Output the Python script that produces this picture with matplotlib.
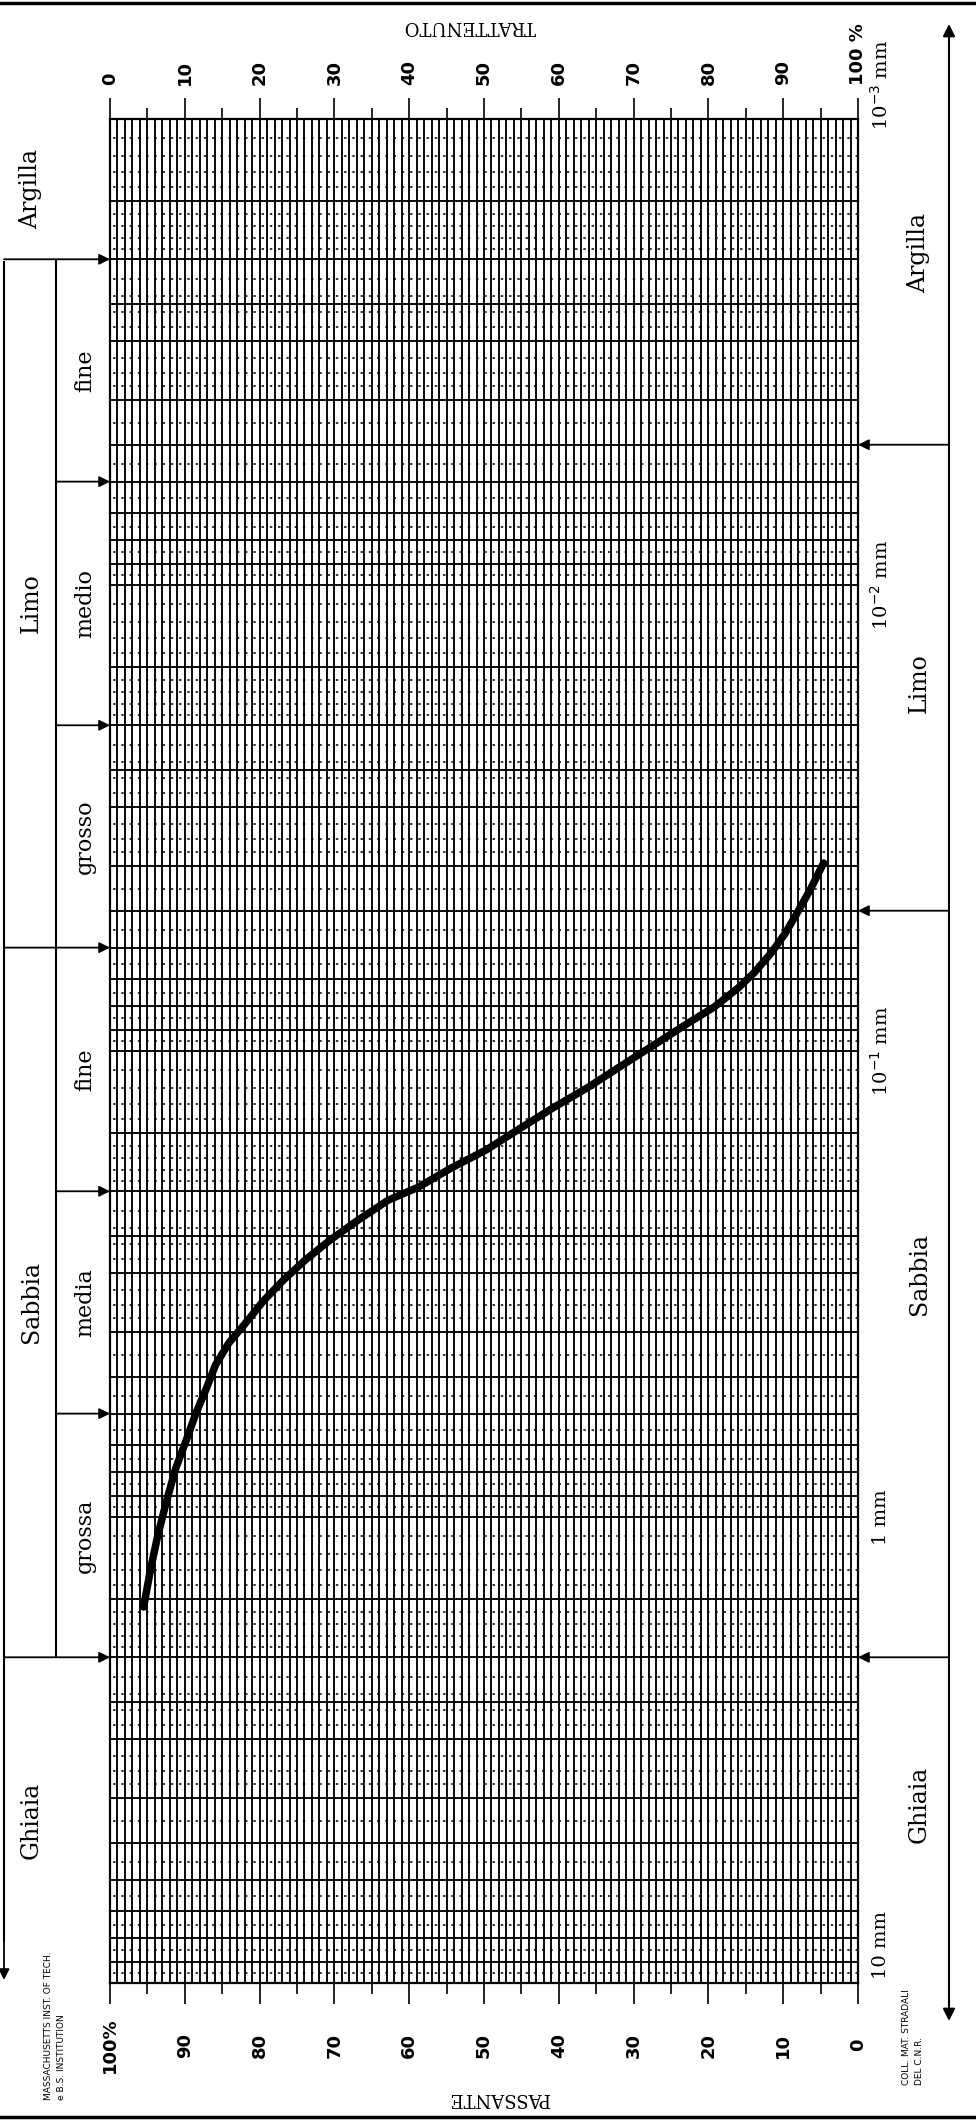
import numpy as np
import matplotlib

matplotlib.use("Agg")
import matplotlib.pyplot as plt
from matplotlib.lines import Line2D
from matplotlib.transforms import Affine2D, blended_transform_factory

# grain size curve: % passing against diameter (mm)
passing = [95.5, 94.6, 93.6, 92.4, 91.2, 89.8, 88.5, 87.1, 85.9, 84.1, 81.9, 79.5,
           76.8, 73.8, 70.5, 66.9, 62.8, 58.8, 54.3, 49.7, 45.3, 40.8, 36.2, 31.8,
           27.3, 22.7, 19.2, 16.0, 13.8, 11.5, 9.7, 8.3, 6.4, 4.6]
diameter_mm = [1.56, 1.30, 1.093, 0.919, 0.785, 0.684, 0.598, 0.529, 0.472, 0.423,
               0.384, 0.344, 0.310, 0.280, 0.254, 0.231, 0.209, 0.196, 0.178, 0.163,
               0.147, 0.1325, 0.120, 0.108, 0.0971, 0.0871, 0.0804, 0.0732, 0.0677,
               0.0613, 0.0558, 0.0511, 0.0451, 0.0395]

# percent axis
pct_major = [100, 90, 80, 70, 60, 50, 40, 30, 20, 10, 0]
passante_labels = ["100%", "90", "80", "70", "60", "50", "40", "30", "20", "10", "0"]
trattenuto_labels = ["0", "10", "20", "30", "40", "50", "60", "70", "80", "90", "100 %"]

# size axis
size_ticks = [10, 1, 0.1, 0.01, 0.001]
size_labels = ["10 mm", "1 mm", "10$^{-1}$ mm", "10$^{-2}$ mm", "10$^{-3}$ mm"]

# M.I.T. / B.S. classification (left column)
mit_main_bounds = [0.002, 0.06, 2.0]
mit_main_names = ["Argilla", "Limo", "Sabbia", "Ghiaia"]
mit_sub_bounds = [0.006, 0.02, 0.2, 0.6]
mit_sub_edges = [0.002, 0.006, 0.02, 0.06, 0.2, 0.6, 2.0]
mit_sub_names = ["fine", "medio", "grosso", "fine", "media", "grossa"]

# C.N.R. classification (right column)
cnr_bounds = [0.005, 0.05, 2.0]
cnr_names = ["Argilla", "Limo", "Sabbia", "Ghiaia"]

# log paper rulings
solid_mult = [1, 1.5, 2, 2.5, 3, 4, 5, 6, 7, 8, 9]
dash_mult = [1.1, 1.2, 1.3, 1.4, 1.6, 1.7, 1.8, 1.9, 2.2, 2.4, 2.6, 2.8,
             3.25, 3.5, 3.75, 4.5, 5.5, 6.5, 7.5, 8.5, 9.5]

# ---- layout (pixels of the 976 x 2121 sheet) ----
W, H = 976, 2121
GL, GR, GT, GB = 110, 858, 119, 1983

fig = plt.figure(figsize=(W / 100, H / 100), dpi=100)
ax = fig.add_axes([GL / W, 1 - GB / H, (GR - GL) / W, (GB - GT) / H])

px = Affine2D().scale(1 / W, -1 / H).translate(0, 1) + fig.transFigure
px_y_data = blended_transform_factory(px, ax.transData)
data_x_px = blended_transform_factory(ax.transData, px)

ax.set_yscale("log")
ax.set_xlim(100, 0)
ax.set_ylim(10, 0.001)

# paper grid
ax.vlines(np.arange(0, 101), 0.001, 10, color="black", lw=1.35, zorder=1)
decades = [0.001, 0.01, 0.1, 1]
solid = [m * d for d in decades for m in solid_mult] + [10]
dashed = [m * d for d in decades for m in dash_mult]
ax.hlines(solid, 0, 100, color="black", lw=1.35, zorder=1)
ax.hlines(dashed, 0, 100, color="black", lw=1.1, linestyles=(0, (1.6, 3.8)), zorder=1)

# curve
ax.plot(passing, diameter_mm, color="black", lw=5.4, solid_capstyle="round",
        solid_joinstyle="round", zorder=5)

for s in ax.spines.values():
    s.set_linewidth(1.6)

ax.set_xticks(pct_major)
ax.set_xticks(np.arange(5, 100, 10), minor=True)
ax.tick_params(axis="x", which="both", direction="out", top=True, bottom=True,
               labelbottom=False, labeltop=False, width=1.2, color="black")
ax.tick_params(axis="x", which="major", length=15)
ax.tick_params(axis="x", which="minor", length=8)
ax.yaxis.set_major_locator(matplotlib.ticker.NullLocator())
ax.yaxis.set_minor_locator(matplotlib.ticker.NullLocator())

num_font = dict(family="DejaVu Sans", fontweight="bold", fontsize=13)
for p, lab in zip(pct_major, passante_labels):
    ax.text(p, 2045, lab, transform=data_x_px, rotation=90, ha="center", va="center",
            clip_on=False, **num_font)
for p, lab in zip(pct_major, trattenuto_labels):
    ax.text(p, 85, lab, transform=data_x_px, rotation=90, ha="center", va="bottom",
            clip_on=False, **num_font)

serif = "DejaVu Serif"
fig.text(470 / W, 1 - 26 / H, "TRATTENUTO", rotation=180, ha="center", va="center",
         family=serif, fontsize=13)
fig.text(499 / W, 1 - 2098 / H, "PASSANTE", rotation=180, ha="center", va="center",
         family=serif, fontsize=13)

# size labels on the right of the grid (end ones sit a little higher)
size_shift = [-38, 0, 0, 0, -34]
for d, lab, sh in zip(size_ticks, size_labels, size_shift):
    ax.text(GR + 23, d, lab, transform=px_y_data + Affine2D().translate(0, -sh),
            rotation=90, ha="center", va="center", family=serif, fontsize=14,
            clip_on=False)

arrow_kw = dict(arrowstyle="-|>", color="black", lw=1.3, mutation_scale=16,
                shrinkA=0, shrinkB=0)

# left column (M.I.T.)
OUT_L, IN_L = 4, 56
fig.add_artist(Line2D([OUT_L, OUT_L], [262, 1940], transform=px, color="black", lw=1.5))
ax.annotate("", xy=(OUT_L, 1980), xycoords=px, xytext=(OUT_L, 1930), textcoords=px,
            arrowprops=arrow_kw, annotation_clip=False)
ax.annotate("", xy=(IN_L, mit_main_bounds[0]), xycoords=px_y_data,
            xytext=(IN_L, mit_main_bounds[-1]), textcoords=px_y_data,
            arrowprops=dict(arrowstyle="-", color="black", lw=1.5, shrinkA=0, shrinkB=0),
            annotation_clip=False)
for b in mit_main_bounds:
    ax.annotate("", xy=(GL, b), xycoords=px_y_data, xytext=(OUT_L, b), textcoords=px_y_data,
                arrowprops=arrow_kw, annotation_clip=False)
for b in mit_sub_bounds:
    ax.annotate("", xy=(GL, b), xycoords=px_y_data, xytext=(IN_L, b), textcoords=px_y_data,
                arrowprops=arrow_kw, annotation_clip=False)

main_edges = [0.001] + mit_main_bounds + [10]
for lo, hi, name in zip(main_edges[:-1], main_edges[1:], mit_main_names):
    ax.text(31, np.sqrt(lo * hi), name, transform=px_y_data, rotation=90, ha="center",
            va="center", family=serif, fontsize=17, clip_on=False)
for lo, hi, name in zip(mit_sub_edges[:-1], mit_sub_edges[1:], mit_sub_names):
    ax.text(85, np.sqrt(lo * hi), name, transform=px_y_data, rotation=90, ha="center",
            va="center", family=serif, fontsize=16, clip_on=False)

fig.text(55 / W, 1 - 2100 / H, "MASSACHUSETTS INST. OF TECH.\ne B.S. INSTITUTION",
         rotation=90, ha="center", va="bottom", multialignment="left",
         family="DejaVu Sans", fontsize=6.5, linespacing=1.5)

# right column (C.N.R.)
OUT_R = 949
ax.annotate("", xy=(OUT_R, 24), xycoords=px, xytext=(OUT_R, 2021), textcoords=px,
            arrowprops=dict(arrowstyle="<|-|>", color="black", lw=1.5, mutation_scale=18,
                            shrinkA=0, shrinkB=0), annotation_clip=False)
for b in cnr_bounds:
    ax.annotate("", xy=(GR, b), xycoords=px_y_data, xytext=(OUT_R, b), textcoords=px_y_data,
                arrowprops=arrow_kw, annotation_clip=False)
cnr_label_y = [253, 683, 1274, 1804]
for yy, name in zip(cnr_label_y, cnr_names):
    fig.text(919 / W, 1 - yy / H, name, rotation=90, ha="center", va="center",
             family=serif, fontsize=17)

fig.text(913 / W, 1 - 2085 / H, "COLL. MAT. STRADALI\nDEL C.N.R.",
         rotation=90, ha="center", va="bottom", multialignment="left",
         family="DejaVu Sans", fontsize=6.5, linespacing=1.5)

# sheet edges
fig.add_artist(Line2D([0, W], [3, 3], transform=px, color="black", lw=2.5))
fig.add_artist(Line2D([0, W], [2117, 2117], transform=px, color="black", lw=2.5))

fig.savefig("out.png", dpi=100, facecolor="white")
